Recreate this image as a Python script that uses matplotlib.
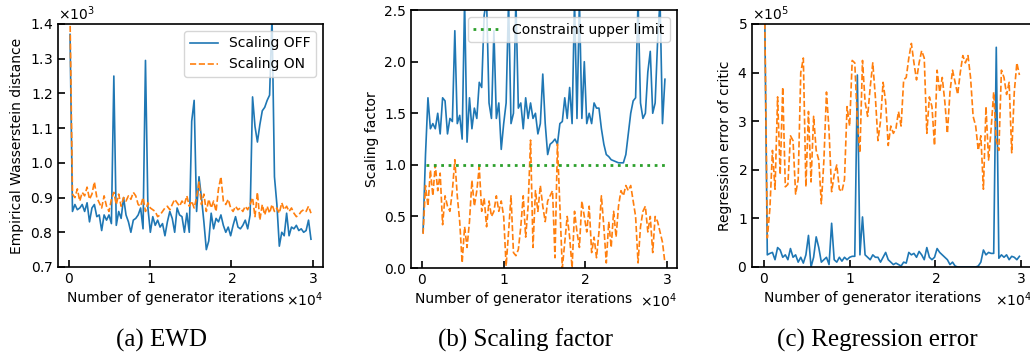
import numpy as np
import matplotlib
matplotlib.use('Agg')
import matplotlib.pyplot as plt

# generator iterations (one logged point every 300 iterations)
iterations = np.arange(100, 30000, 300)

# (a) empirical Wasserstein distance
ewd_off = [1370, 860, 880, 865, 870, 880, 860, 885, 830, 870,
           880, 845, 850, 805, 850, 835, 850, 825, 1250, 820,
           860, 840, 900, 850, 830, 800, 835, 840, 850, 870,
           810, 1295, 870, 800, 845, 820, 835, 815, 825, 790,
           830, 860, 840, 800, 870, 850, 845, 800, 855, 800,
           1120, 1180, 860, 960, 900, 830, 750, 775, 855, 810,
           840, 830, 850, 820, 800, 815, 790, 820, 845, 815,
           810, 820, 835, 810, 850, 1190, 1105, 1060, 1110, 1150,
           1160, 1180, 1195, 1420, 960, 880, 760, 800, 790, 855,
           790, 815, 810, 820, 805, 810, 800, 805, 835, 780]
ewd_on = [1420, 910, 900, 925, 890, 915, 905, 930, 895, 910,
          945, 900, 885, 870, 905, 875, 860, 895, 915, 880,
          910, 875, 900, 890, 905, 895, 915, 905, 880, 875,
          900, 860, 885, 870, 865, 860, 845, 850, 860, 870,
          875, 865, 880, 895, 885, 875, 890, 880, 905, 875,
          890, 870, 900, 945, 880, 910, 860, 895, 870, 890,
          860, 925, 960, 890, 880, 895, 870, 860, 875, 865,
          870, 860, 875, 865, 880, 900, 845, 915, 835, 880,
          850, 875, 855, 880, 860, 870, 855, 885, 865, 875,
          860, 870, 855, 845, 850, 860, 865, 860, 875, 855]

# (b) scaling factor
scale_off = [0.35, 1.10, 1.65, 1.35, 1.40, 1.35, 1.50, 1.30, 1.65, 1.62,
             1.30, 1.45, 1.42, 2.30, 1.40, 1.48, 1.25, 2.60, 1.22, 1.65,
             1.35, 1.55, 1.45, 1.80, 1.75, 2.45, 2.60, 1.60, 1.45, 2.30,
             1.45, 1.60, 1.15, 1.40, 1.60, 2.60, 1.40, 1.50, 2.60, 1.55,
             1.60, 1.35, 1.65, 1.45, 1.60, 1.45, 1.50, 1.30, 1.40, 1.88,
             1.40, 1.10, 1.20, 1.22, 1.25, 1.20, 1.40, 1.42, 1.65, 1.45,
             1.75, 1.40, 2.60, 1.45, 2.60, 1.45, 2.00, 1.40, 1.50, 1.40,
             1.60, 1.55, 1.55, 1.35, 1.20, 1.10, 1.08, 1.05, 1.04, 1.03,
             1.02, 1.02, 1.02, 1.10, 1.30, 1.50, 1.62, 1.65, 2.60, 1.60,
             1.45, 1.50, 1.90, 2.10, 1.50, 1.60, 2.20, 2.60, 1.40, 1.83]
scale_on = [0.33, 0.80, 0.60, 0.95, 0.70, 1.00, 0.75, 0.92, 0.42, 0.70,
            0.60, 0.55, 0.75, 1.05, 0.70, 0.45, 0.05, 0.40, 0.20, 0.45,
            0.85, 0.60, 0.75, 0.98, 0.55, 0.68, 0.40, 0.65, 0.50, 0.55,
            0.70, 0.55, 0.65, 0.50, 0.02, 0.35, 0.70, 0.15, 0.12, 0.18,
            0.40, 0.70, 0.30, 0.60, 1.24, 0.20, 0.75, 0.55, 0.80, 0.60,
            0.45, 0.65, 0.70, 0.75, 0.10, 1.20, 0.60, 0.00, 0.25, 0.50,
            0.30, 0.00, 0.55, 0.35, 0.20, 0.65, 0.50, 0.35, 0.60, 0.15,
            0.30, 0.10, 0.35, 0.70, 0.40, 0.05, 0.45, 0.20, 0.55, 0.30,
            0.60, 0.75, 0.70, 0.80, 0.75, 0.80, 0.65, 0.50, 0.05, 0.40,
            0.55, 0.60, 0.35, 0.50, 0.15, 0.50, 0.45, 0.35, 0.25, 0.05]
upper_limit = 1.0

# (c) regression error of critic, in units of 1e5
reg_off = [5.2, 0.25, 0.28, 0.30, 0.15, 0.40, 0.35, 0.20, 0.25, 0.15,
           0.38, 0.20, 0.25, 0.10, 0.20, 0.08, 0.25, 0.65, 0.00, 0.20,
           0.62, 0.40, 0.10, 0.15, 0.20, 0.05, 0.90, 0.15, 0.10, 0.20,
           0.12, 0.20, 0.15, 0.20, 0.22, 0.22, 3.95, 0.25, 1.03, 0.25,
           0.20, 0.15, 0.25, 0.20, 0.20, 0.10, 0.20, 0.30, 0.15, 0.10,
           0.05, 0.08, 0.05, 0.02, 0.10, 0.08, 0.30, 0.25, 0.28, 0.20,
           0.32, 0.25, 0.15, 0.40, 0.20, 0.15, 0.20, 0.38, 0.30, 0.25,
           0.20, 0.15, 0.05, 0.10, 0.02, 0.00, 0.00, 0.00, 0.00, 0.00,
           0.00, 0.00, 0.00, 0.02, 0.10, 0.35, 0.25, 0.30, 0.28, 0.28,
           4.52, 0.18, 0.25, 0.20, 0.25, 0.15, 0.22, 0.20, 0.15, 0.22]
reg_on = [5.2, 0.60, 1.20, 2.40, 1.60, 3.50, 1.90, 3.70, 1.65, 1.70,
          2.70, 2.60, 1.50, 1.80, 4.00, 4.30, 1.65, 3.20, 1.75, 3.10,
          2.40, 2.20, 1.30, 2.20, 3.60, 2.80, 1.55, 1.90, 2.10, 1.60,
          1.55, 1.80, 3.30, 2.90, 4.25, 4.20, 3.00, 2.35, 4.25, 3.40,
          3.10, 3.70, 4.20, 3.50, 2.60, 3.00, 3.80, 3.40, 2.50, 2.90,
          2.75, 2.85, 3.20, 2.90, 3.85, 3.90, 4.30, 4.60, 4.20, 3.85,
          4.20, 4.45, 4.30, 2.75, 3.50, 3.30, 2.50, 4.05, 3.60, 3.90,
          3.40, 2.75, 3.60, 4.05, 3.80, 3.55, 4.00, 4.35, 4.20, 4.35,
          3.90, 3.10, 2.90, 2.40, 2.70, 1.60, 3.30, 2.20, 2.85, 3.60,
          2.60, 2.40, 4.05, 3.90, 3.55, 3.80, 2.35, 3.60, 4.20, 3.95]

captions = ['(a) EWD', '(b) Scaling factor', '(c) Regression error']

plt.rcParams['font.size'] = 10

fig = plt.figure(figsize=(10.30, 3.56), dpi=100)
ax1 = fig.add_axes([0.0563, 0.250, 0.2573, 0.6826])
ax2 = fig.add_axes([0.3990, 0.247, 0.2583, 0.7247])
ax3 = fig.add_axes([0.7301, 0.250, 0.2720, 0.6826])

ax1.plot(iterations, ewd_off, color='#1f77b4', lw=1.2, label='Scaling OFF')
ax1.plot(iterations, ewd_on, color='#ff7f0e', lw=1.2, ls='--', label='Scaling ON')
ax1.set_ylim(700, 1400)
ax1.set_ylabel('Empirical Wasserstein distance')
ax1.legend(loc='upper right')

ax2.plot(iterations, scale_off, color='#1f77b4', lw=1.2)
ax2.plot(iterations, scale_on, color='#ff7f0e', lw=1.2, ls='--')
ax2.plot([iterations[1], iterations[-1]], [upper_limit, upper_limit], color='#2ca02c',
         lw=2, ls=':', label='Constraint upper limit')
ax2.set_ylim(0, 2.5)
ax2.set_ylabel('Scaling factor')
ax2.legend(loc='upper right')

ax3.plot(iterations, np.array(reg_off) * 1e5, color='#1f77b4', lw=1.2)
ax3.plot(iterations, np.array(reg_on) * 1e5, color='#ff7f0e', lw=1.2, ls='--')
ax3.set_ylim(0, 5e5)
ax3.set_ylabel('Regression error of critic')

for ax in (ax1, ax2, ax3):
    ax.set_xlabel('Number of generator iterations')
    ax.set_xticks([0, 10000, 20000, 30000])
    ax.ticklabel_format(axis='x', style='sci', scilimits=(0, 0), useMathText=True)
    ax.tick_params(direction='in', length=5, width=1.2)
    for s in ax.spines.values():
        s.set_linewidth(1.2)
ax1.ticklabel_format(axis='y', style='sci', scilimits=(0, 0), useMathText=True)
ax3.ticklabel_format(axis='y', style='sci', scilimits=(0, 0), useMathText=True)
ax1.xaxis.set_label_coords(0.445, -0.1)
ax2.xaxis.set_label_coords(0.425, -0.094)
ax3.xaxis.set_label_coords(0.43, -0.1)

for x, txt in zip([0.157, 0.510, 0.852], captions):
    fig.text(x, 0.045, txt, ha='center', va='center', fontsize=18, family='Liberation Serif')

fig.savefig('out.png', dpi=100)
